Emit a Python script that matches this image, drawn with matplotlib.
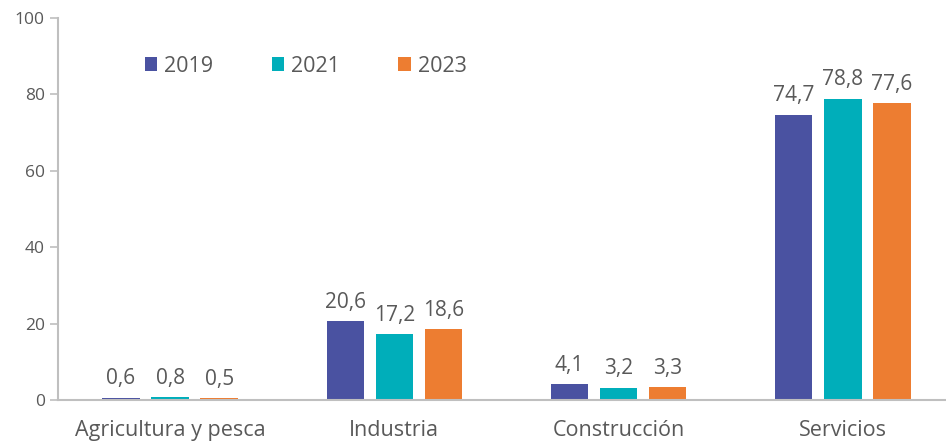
import numpy as np
import matplotlib
matplotlib.use('Agg')
import matplotlib.pyplot as plt

# Datos del grafico
sectores = ['Agricultura y pesca', 'Industria', 'Construcción', 'Servicios']
anios = ['2019', '2021', '2023']
v2019 = [0.6, 20.6, 4.1, 74.7]
v2021 = [0.8, 17.2, 3.2, 78.8]
v2023 = [0.5, 18.6, 3.3, 77.6]
colores = ['#4A52A1', '#00AEBA', '#ED7D31']

plt.rcParams['font.family'] = ['Open Sans', 'DejaVu Sans']
gris = '#595959'

fig = plt.figure(figsize=(9.46, 4.46), dpi=100)
ax = fig.add_axes([0.0613, 0.103, 0.9387, 0.857])

x = np.arange(len(sectores))
ancho = 0.167
paso = 0.219
series = [v2019, v2021, v2023]
for i, (vals, col, lab) in enumerate(zip(series, colores, anios)):
    barras = ax.bar(x + (i - 1) * paso, vals, width=ancho, color=col, label=lab)
    for b, v in zip(barras, vals):
        ax.text(b.get_x() + b.get_width() / 2, v + 2.2, f'{v:.1f}'.replace('.', ','),
                ha='center', va='bottom', fontsize=15, color=gris)

ax.set_ylim(0, 100)
ax.set_xlim(-0.5, 3.46)
ax.set_yticks(range(0, 101, 20))
ax.set_xticks(x)
ax.set_xticklabels(sectores, fontsize=15.5, color=gris)
ax.tick_params(axis='y', labelsize=12.5, colors=gris, length=6, color='#BFBFBF', width=1.2)
ax.tick_params(axis='x', length=0, pad=14)
for s in ['top', 'right']:
    ax.spines[s].set_visible(False)
for s in ['left', 'bottom']:
    ax.spines[s].set_color('#BFBFBF')
    ax.spines[s].set_linewidth(1.5)

fig.legend(loc='center', bbox_to_anchor=(0.323, 0.852), ncol=3, frameon=False,
           fontsize=15.5, labelcolor=gris, handlelength=0.6, handleheight=0.6,
           handletextpad=0.3, columnspacing=2.72)

fig.savefig('out.png', dpi=100)
